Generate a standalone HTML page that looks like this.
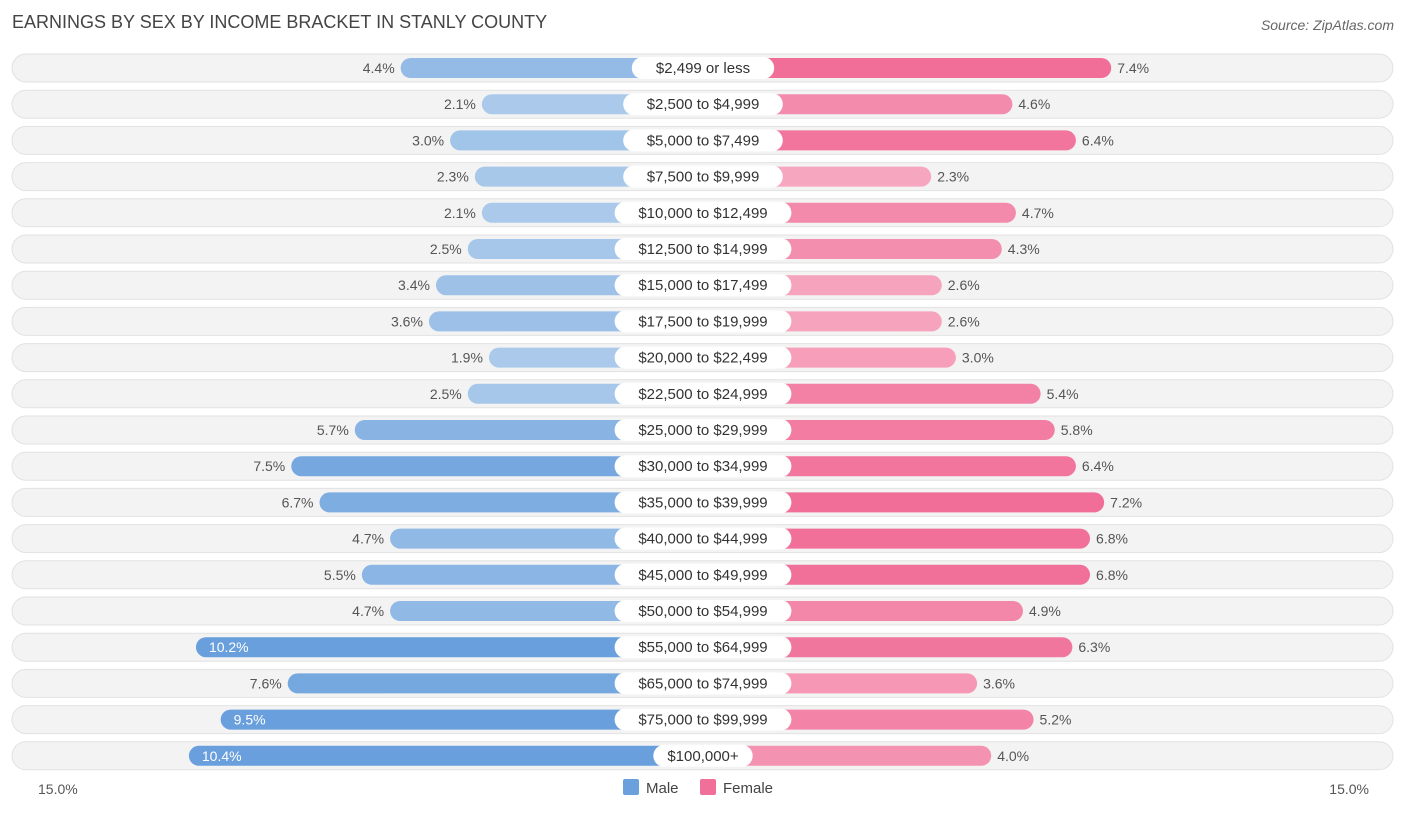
<!DOCTYPE html>
<html><head><meta charset="utf-8"><style>
body{margin:0;background:#fff;font-family:"Liberation Sans",sans-serif;}
svg text{font-family:"Liberation Sans",sans-serif;}
</style></head><body>
<svg id="c" width="1406" height="813">
<text x="12" y="28" font-size="18" fill="#444">EARNINGS BY SEX BY INCOME BRACKET IN STANLY COUNTY</text>
<text x="1394" y="30" font-size="14" fill="#666" font-style="italic" text-anchor="end">Source: ZipAtlas.com</text>
<g id="rows"></g>
<text x="38" y="794" font-size="14" fill="#555">15.0%</text>
<text x="1369" y="794" font-size="14" fill="#555" text-anchor="end">15.0%</text>
<rect x="623" y="779" width="16" height="16" rx="2" fill="#6aa0dc"/>
<text x="646" y="793" font-size="15" fill="#444">Male</text>
<rect x="700" y="779" width="16" height="16" rx="2" fill="#f07099"/>
<text x="723" y="793" font-size="15" fill="#444">Female</text>
</svg>
<script>
const categories=["$2,499 or less","$2,500 to $4,999","$5,000 to $7,499","$7,500 to $9,999","$10,000 to $12,499","$12,500 to $14,999","$15,000 to $17,499","$17,500 to $19,999","$20,000 to $22,499","$22,500 to $24,999","$25,000 to $29,999","$30,000 to $34,999","$35,000 to $39,999","$40,000 to $44,999","$45,000 to $49,999","$50,000 to $54,999","$55,000 to $64,999","$65,000 to $74,999","$75,000 to $99,999","$100,000+"];
const male=[4.4,2.1,3.0,2.3,2.1,2.5,3.4,3.6,1.9,2.5,5.7,7.5,6.7,4.7,5.5,4.7,10.2,7.6,9.5,10.4];
const female=[7.4,4.6,6.4,2.3,4.7,4.3,2.6,2.6,3.0,5.4,5.8,6.4,7.2,6.8,6.8,4.9,6.3,3.6,5.2,4.0];
const NS='http://www.w3.org/2000/svg';
const cx=703,off=147,k=35.3,y0=68,dy=36.2;
const g=document.getElementById('rows');
function mk(t,a,p){const e=document.createElementNS(NS,t);for(const n in a)e.setAttribute(n,a[n]);(p||g).appendChild(e);return e;}
function mix(a,b,t){return 'rgb('+a.map((v,i)=>Math.round(v+(b[i]-v)*t)).join(',')+')';}
function xm(v){return cx-off-v*k;}
function xf(v){return cx+off+v*k;}
categories.forEach((c,i)=>{
 const y=y0+i*dy;
 const bg=mk('rect',{x:12,y:y-14,width:1381,height:28,rx:14,fill:'#f3f3f3',stroke:'#e2e2e2'});
 
 
 const mv=male[i],fv=female[i];
 const tm=Math.min(1,Math.max(0,(mv-2)/7)),tf=Math.min(1,Math.max(0,(fv-2)/5));
 const mb=mk('rect',{x:xm(mv),y:y-10,width:cx-xm(mv),height:20,rx:10,fill:mix([171,202,235],[104,159,220],tm)});
 
 
 const fb=mk('rect',{x:cx,y:y-10,width:xf(fv)-cx,height:20,rx:10,fill:mix([247,170,194],[240,110,152],tf)});
 
 
 const inside=mv>=9;
 const ml=mk('text',{x:inside?xm(mv)+13:xm(mv)-6,y:y+5,'font-size':14,fill:inside?'#fff':'#555','text-anchor':inside?'start':'end'});
 ml.textContent=mv.toFixed(1)+'%';
 
 
 const fl=mk('text',{x:xf(fv)+6,y:y+5,'font-size':14,fill:'#555'});
 fl.textContent=fv.toFixed(1)+'%';
 
 
 const w=c.length*8.6+22;
 const lb=mk('rect',{x:cx-w/2,y:y-11,width:w,height:22,rx:11,fill:'#fff'});
 
 
 const lt=mk('text',{x:cx,y:y+5,'font-size':15,fill:'#333','text-anchor':'middle'});
 lt.textContent=c;
 
 
});
</script>
</body></html>
